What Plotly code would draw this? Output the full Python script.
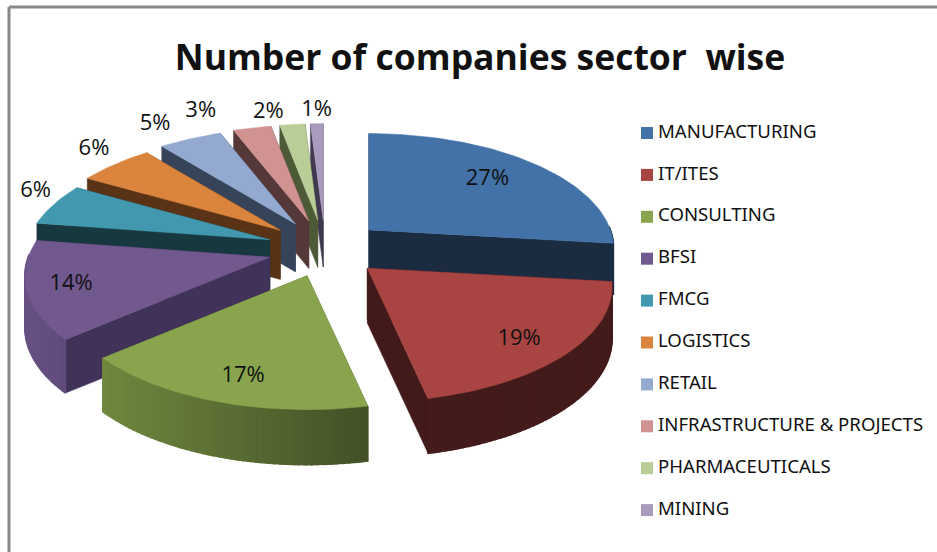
"""Number of companies sector wise: exploded 3D pie drawn on hidden pixel axes."""

import math

import plotly.graph_objects as go

sectors = [
    "MANUFACTURING",
    "IT/ITES",
    "CONSULTING",
    "BFSI",
    "FMCG",
    "LOGISTICS",
    "RETAIL",
    "INFRASTRUCTURE & PROJECTS",
    "PHARMACEUTICALS",
    "MINING",
]
shares = [27.3, 19.4, 16.6, 13.7, 6, 6, 5, 3, 2, 1]

top_colors = ["#4372A8", "#A84442", "#88A54E", "#71588F", "#4198AF",
              "#DB843D", "#93A9CF", "#D19392", "#B9CD96", "#A99BBD"]
edge_colors = ["#1B2B40", "#421A19", "#4A5A2A", "#41325A", "#17383F",
               "#5A3316", "#36445A", "#553838", "#4C5A38", "#40384E"]

# projection of the tilted pie onto the page, in pixels
center_x, center_y = 325, 248.6
pull_x, pull_y = 58, 28.6
radius_x, radius_y = 240.4, 111
persp = 0.189
shift_y = -3

# hand nudges for the percent labels, same order as sectors
label_nudge = [(15, -7), (23, 17), (-6, 20), (-43, 7), (25, -6),
               (12, -1), (-14, 3), (-40, 2), (-19, 7), (1, 6)]


def hex_rgb(col):
    return tuple(int(col[i:i + 2], 16) for i in (1, 3, 5))


def shade(col, f):
    return "rgb(%d,%d,%d)" % tuple(min(255, c * f) for c in hex_rgb(col))


def rim_point(a):
    s = 1 + persp * math.cos(a)
    return radius_x * math.sin(a) / s, -radius_y * math.cos(a) / s + shift_y


def depth(a):
    return 51 - 4 * math.cos(a)


def poly(fig, xs, ys, color, width=0.5):
    fig.add_trace(
        go.Scatter(
            x=xs + xs[:1],
            y=ys + ys[:1],
            mode="lines",
            fill="toself",
            fillcolor=color,
            line={"color": color, "width": width},
            hoverinfo="skip",
            showlegend=False,
        )
    )


fig = go.Figure()

# slice angles from the shares, clockwise from twelve o'clock
total = sum(shares)
spans = []
run = 0
for v in shares:
    spans.append((2 * math.pi * run / total, 2 * math.pi * (run + v) / total))
    run += v

# back slices first so the front ones paint over them
order = sorted(range(len(shares)), key=lambda i: -math.cos(sum(spans[i]) / 2))
label_x, label_y = {}, {}
for i in order:
    a0, a1 = spans[i]
    mid = (a0 + a1) / 2
    ax = center_x + pull_x * math.sin(mid)
    ay = center_y - pull_y * math.cos(mid)
    n = max(3, int(shares[i] * 3))
    angles = [a0 + (a1 - a0) * k / n for k in range(n + 1)]
    pts = [(ax + rim_point(a)[0], ay + rim_point(a)[1]) for a in angles]

    # radial faces
    for a, (x, y) in ((a0, pts[0]), (a1, pts[-1])):
        d = depth(a)
        poly(fig, [ax, x, x, ax], [ay, y, y + d, ay + d], edge_colors[i])

    # outer wall, only the front half shows; lighter to the left
    for k in range(n):
        if math.cos((angles[k] + angles[k + 1]) / 2) >= 0:
            continue
        (x0, y0), (x1, y1) = pts[k], pts[k + 1]
        f = max(0.41, 0.95 - 0.00125 * (x0 + x1) / 2)
        d0, d1 = depth(angles[k]), depth(angles[k + 1])
        poly(fig, [x0, x1, x1, x0], [y0, y1, y1 + d1, y0 + d0], shade(top_colors[i], f), 1.5)

    poly(fig, [ax] + [p[0] for p in pts], [ay] + [p[1] for p in pts], top_colors[i])

    # big slices carry the label inside, small ones outside the rim
    rx, ry = rim_point(mid)
    f = 0.64 if shares[i] >= 13 else 1.2
    label_x[i] = ax + f * rx + label_nudge[i][0]
    label_y[i] = ay + f * ry + label_nudge[i][1]

idx = list(range(len(shares)))
fig.add_trace(
    go.Scatter(
        x=[label_x[i] for i in idx],
        y=[label_y[i] for i in idx],
        mode="text",
        text=[f"{round(shares[i])}%" for i in idx],
        textfont={"family": "Open Sans", "size": 22, "color": "#111111"},
        hoverinfo="skip",
        showlegend=False,
    )
)

# legend column
legend_y = [133 + 41.9 * i for i in idx]
fig.add_trace(
    go.Scatter(
        x=[647] * len(sectors),
        y=legend_y,
        mode="markers",
        marker={"symbol": "square", "size": 12, "color": top_colors},
        hoverinfo="skip",
        showlegend=False,
    )
)
fig.add_trace(
    go.Scatter(
        x=[658] * len(sectors),
        y=legend_y,
        mode="text",
        text=sectors,
        textposition="middle right",
        textfont={"family": "Noto Sans", "size": 18.6, "color": "#111111"},
        hoverinfo="skip",
        showlegend=False,
    )
)

fig.update_layout(
    width=937,
    height=552,
    margin={"l": 0, "r": 0, "t": 0, "b": 0},
    paper_bgcolor="white",
    plot_bgcolor="white",
    showlegend=False,
    title={
        "text": "<b>Number of companies sector  wise</b>",
        "x": 480 / 937,
        "xanchor": "center",
        "y": 1 - 58 / 552,
        "yanchor": "middle",
        "font": {"family": "Open Sans", "size": 35.5, "color": "#111111"},
    },
)
fig.update_xaxes(range=[0, 937], visible=False, fixedrange=True)
fig.update_yaxes(range=[552, 0], visible=False, fixedrange=True)

# chart frame
fig.add_shape(type="line", x0=9, x1=9, y0=7, y1=552, line={"color": "#888888", "width": 3})
fig.add_shape(type="line", x0=9, x1=937, y0=7, y1=7, line={"color": "#888888", "width": 3})

# the page's default body margin would push the chart off its pixel positions
fig.write_html(
    "out.html",
    config={"displayModeBar": False},
    post_script="document.body.style.margin='0';document.body.style.overflow='hidden';",
)
